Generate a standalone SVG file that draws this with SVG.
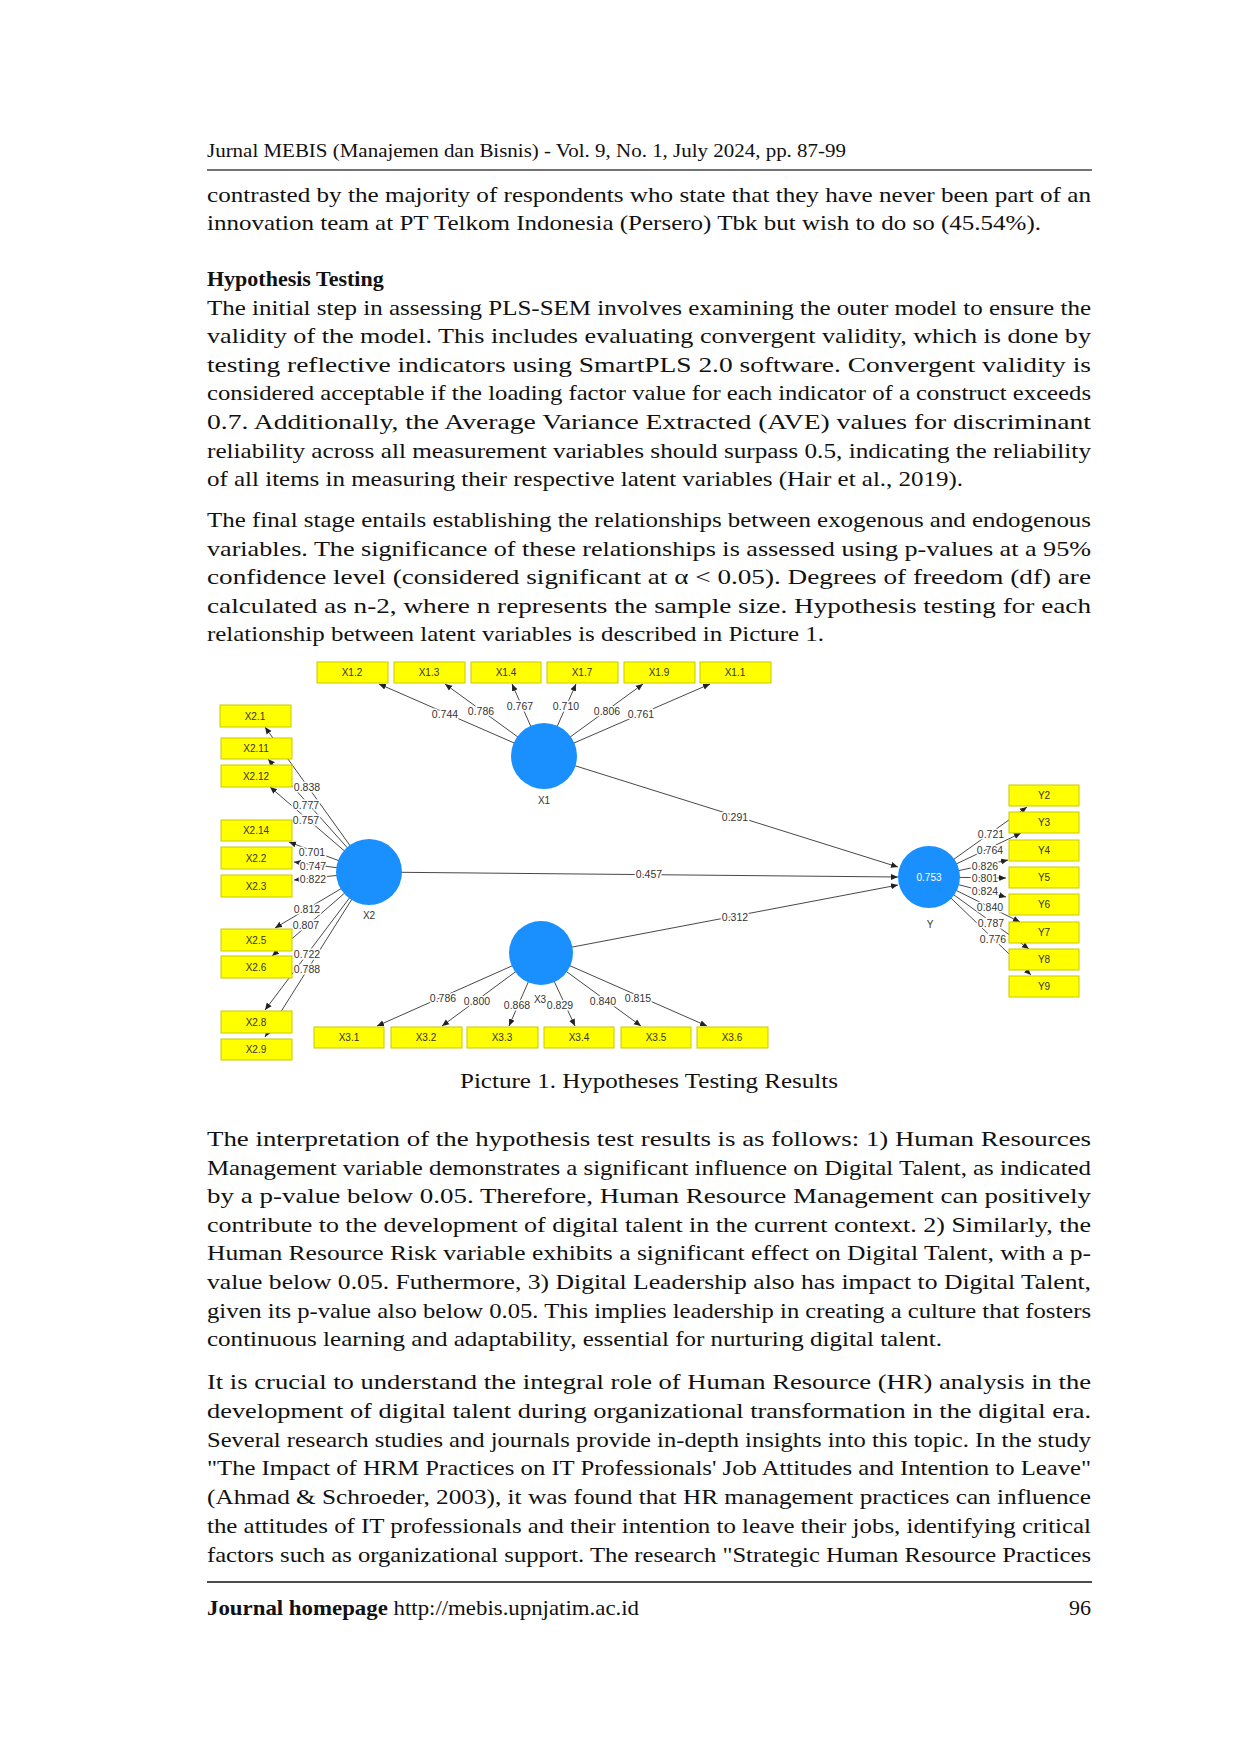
<svg xmlns="http://www.w3.org/2000/svg" width="1240" height="1754" viewBox="0 0 1240 1754">
<style>
.t{font-family:"Liberation Serif",serif;font-size:22px;fill:#111}
.h{font-family:"Liberation Serif",serif;font-size:19px;fill:#111}
.b{font-weight:bold}
.bx{fill:#ffff00;stroke:#c9c900;stroke-width:1}
.bl{font-family:"Liberation Sans",sans-serif;font-size:10px;fill:#333;text-anchor:middle}
.lv{fill:#1a90ff}
.ld{font-family:"Liberation Sans",sans-serif;font-size:10.5px;fill:#333;text-anchor:middle;stroke:#fff;stroke-width:3px;paint-order:stroke}
.c line{stroke:#333;stroke-width:0.9;marker-end:url(#ar)}
</style>
<defs><marker id="ar" markerWidth="8" markerHeight="8" refX="7" refY="4" orient="auto" markerUnits="userSpaceOnUse"><path d="M0,1 L7,4 L0,7 Z" fill="#222"/></marker></defs>
<rect width="1240" height="1754" fill="#fff"/>
<text class="h" x="207" y="157" textLength="639" lengthAdjust="spacingAndGlyphs">Jurnal MEBIS (Manajemen dan Bisnis) - Vol. 9, No. 1, July 2024, pp. 87-99</text>
<line x1="207" y1="170" x2="1092" y2="170" stroke="#444" stroke-width="1.5"/>
<g class="t">
<text x="207" y="202" textLength="884" lengthAdjust="spacingAndGlyphs">contrasted by the majority of respondents who state that they have never been part of an</text>
<text x="207" y="230" textLength="834" lengthAdjust="spacingAndGlyphs">innovation team at PT Telkom Indonesia (Persero) Tbk but wish to do so (45.54%).</text>
<text x="207" y="286" class="b">Hypothesis Testing</text>
<text x="207" y="314.6" textLength="884" lengthAdjust="spacingAndGlyphs">The initial step in assessing PLS-SEM involves examining the outer model to ensure the</text>
<text x="207" y="343.2" textLength="884" lengthAdjust="spacingAndGlyphs">validity of the model. This includes evaluating convergent validity, which is done by</text>
<text x="207" y="371.8" textLength="884" lengthAdjust="spacingAndGlyphs">testing reflective indicators using SmartPLS 2.0 software. Convergent validity is</text>
<text x="207" y="400.4" textLength="884" lengthAdjust="spacingAndGlyphs">considered acceptable if the loading factor value for each indicator of a construct exceeds</text>
<text x="207" y="429" textLength="884" lengthAdjust="spacingAndGlyphs">0.7. Additionally, the Average Variance Extracted (AVE) values for discriminant</text>
<text x="207" y="457.6" textLength="884" lengthAdjust="spacingAndGlyphs">reliability across all measurement variables should surpass 0.5, indicating the reliability</text>
<text x="207" y="486.2" textLength="756" lengthAdjust="spacingAndGlyphs">of all items in measuring their respective latent variables (Hair et al., 2019).</text>
<text x="207" y="527" textLength="884" lengthAdjust="spacingAndGlyphs">The final stage entails establishing the relationships between exogenous and endogenous</text>
<text x="207" y="555.6" textLength="884" lengthAdjust="spacingAndGlyphs">variables. The significance of these relationships is assessed using p-values at a 95%</text>
<text x="207" y="584.2" textLength="884" lengthAdjust="spacingAndGlyphs">confidence level (considered significant at α &lt; 0.05). Degrees of freedom (df) are</text>
<text x="207" y="612.8" textLength="884" lengthAdjust="spacingAndGlyphs">calculated as n-2, where n represents the sample size. Hypothesis testing for each</text>
<text x="207" y="641.4" textLength="617" lengthAdjust="spacingAndGlyphs">relationship between latent variables is described in Picture 1.</text>
<text x="460" y="1088" textLength="378" lengthAdjust="spacingAndGlyphs">Picture 1. Hypotheses Testing Results</text>
<text x="207" y="1146" textLength="884" lengthAdjust="spacingAndGlyphs">The interpretation of the hypothesis test results is as follows: 1) Human Resources</text>
<text x="207" y="1174.6" textLength="884" lengthAdjust="spacingAndGlyphs">Management variable demonstrates a significant influence on Digital Talent, as indicated</text>
<text x="207" y="1203.2" textLength="884" lengthAdjust="spacingAndGlyphs">by a p-value below 0.05. Therefore, Human Resource Management can positively</text>
<text x="207" y="1231.8" textLength="884" lengthAdjust="spacingAndGlyphs">contribute to the development of digital talent in the current context. 2) Similarly, the</text>
<text x="207" y="1260.4" textLength="884" lengthAdjust="spacingAndGlyphs">Human Resource Risk variable exhibits a significant effect on Digital Talent, with a p-</text>
<text x="207" y="1289" textLength="884" lengthAdjust="spacingAndGlyphs">value below 0.05.  Futhermore, 3) Digital Leadership also has impact to Digital Talent,</text>
<text x="207" y="1317.6" textLength="884" lengthAdjust="spacingAndGlyphs">given its p-value also below 0.05. This implies leadership in creating a culture that fosters</text>
<text x="207" y="1346.2" textLength="735" lengthAdjust="spacingAndGlyphs">continuous learning and adaptability, essential for nurturing digital talent.</text>
<text x="207" y="1389" textLength="884" lengthAdjust="spacingAndGlyphs">It is crucial to understand the integral role of Human Resource (HR) analysis in the</text>
<text x="207" y="1417.8" textLength="884" lengthAdjust="spacingAndGlyphs">development of digital talent during organizational transformation in the digital era.</text>
<text x="207" y="1446.6" textLength="884" lengthAdjust="spacingAndGlyphs">Several research studies and journals provide in-depth insights into this topic. In the study</text>
<text x="207" y="1475.4" textLength="884" lengthAdjust="spacingAndGlyphs">"The Impact of HRM Practices on IT Professionals' Job Attitudes and Intention to Leave"</text>
<text x="207" y="1504.2" textLength="884" lengthAdjust="spacingAndGlyphs">(Ahmad &amp; Schroeder, 2003), it was found that HR management practices can influence</text>
<text x="207" y="1533" textLength="884" lengthAdjust="spacingAndGlyphs">the attitudes of IT professionals and their intention to leave their jobs, identifying critical</text>
<text x="207" y="1561.8" textLength="884" lengthAdjust="spacingAndGlyphs">factors such as organizational support. The research "Strategic Human Resource Practices</text>
</g>
<line x1="207" y1="1582" x2="1092" y2="1582" stroke="#111" stroke-width="1.5"/>
<text class="t" x="207" y="1615" textLength="432" lengthAdjust="spacingAndGlyphs"><tspan class="b">Journal homepage</tspan> http://mebis.upnjatim.ac.id</text>
<text class="t" x="1091" y="1615" text-anchor="end">96</text>

<g id="connectors" class="c">
<line x1="544" y1="756" x2="379" y2="684"/>
<line x1="544" y1="756" x2="445" y2="684"/>
<line x1="544" y1="756" x2="512" y2="684"/>
<line x1="544" y1="756" x2="576" y2="684"/>
<line x1="544" y1="756" x2="643" y2="684"/>
<line x1="544" y1="756" x2="710" y2="684"/>
<line x1="369" y1="872" x2="265" y2="727"/>
<line x1="369" y1="872" x2="268" y2="759"/>
<line x1="369" y1="872" x2="270" y2="787"/>
<line x1="369" y1="872" x2="289" y2="842"/>
<line x1="369" y1="872" x2="294" y2="862"/>
<line x1="369" y1="872" x2="294" y2="880"/>
<line x1="369" y1="872" x2="275" y2="928"/>
<line x1="369" y1="872" x2="272" y2="956"/>
<line x1="369" y1="872" x2="265" y2="1010"/>
<line x1="369" y1="872" x2="265" y2="1037"/>
<line x1="541" y1="953" x2="377" y2="1026"/>
<line x1="541" y1="953" x2="442" y2="1026"/>
<line x1="541" y1="953" x2="509" y2="1026"/>
<line x1="541" y1="953" x2="575" y2="1026"/>
<line x1="541" y1="953" x2="641" y2="1026"/>
<line x1="541" y1="953" x2="707" y2="1026"/>
<line x1="929" y1="877" x2="1027" y2="807"/>
<line x1="929" y1="877" x2="1021" y2="833"/>
<line x1="929" y1="877" x2="1008" y2="860"/>
<line x1="929" y1="877" x2="1006" y2="878"/>
<line x1="929" y1="877" x2="1006" y2="897"/>
<line x1="929" y1="877" x2="1020" y2="922"/>
<line x1="929" y1="877" x2="1029" y2="949"/>
<line x1="929" y1="877" x2="1031" y2="975"/>
<line x1="544" y1="756" x2="898" y2="867"/>
<line x1="369" y1="872" x2="898" y2="877"/>
<line x1="541" y1="953" x2="898" y2="885"/>
<g class="ld">
<text x="445" y="718">0.744</text><text x="481" y="715">0.786</text><text x="520" y="710">0.767</text>
<text x="566" y="710">0.710</text><text x="607" y="715">0.806</text><text x="641" y="718">0.761</text>
<text x="307" y="791">0.838</text><text x="306" y="809">0.777</text><text x="306" y="824">0.757</text>
<text x="312" y="856">0.701</text><text x="313" y="870">0.747</text><text x="313" y="883">0.822</text>
<text x="307" y="913">0.812</text><text x="306" y="929">0.807</text><text x="307" y="958">0.722</text>
<text x="307" y="973">0.788</text>
<text x="443" y="1002">0.786</text><text x="477" y="1005">0.800</text><text x="517" y="1009">0.868</text>
<text x="560" y="1009">0.829</text><text x="603" y="1005">0.840</text><text x="638" y="1002">0.815</text>
<text x="991" y="838">0.721</text><text x="990" y="854">0.764</text><text x="985" y="870">0.826</text>
<text x="985" y="882">0.801</text><text x="985" y="895">0.824</text><text x="990" y="911">0.840</text>
<text x="991" y="927">0.787</text><text x="993" y="943">0.776</text>
<text x="735" y="821">0.291</text><text x="649" y="878">0.457</text><text x="735" y="921">0.312</text>
</g>
</g>

<g id="X1"><circle class="lv" cx="544" cy="756" r="33"/><text class="bl" x="544" y="804">X1</text></g>
<g id="X2"><circle class="lv" cx="369" cy="872" r="33"/><text class="bl" x="369" y="919">X2</text></g>
<g id="X3"><circle class="lv" cx="541" cy="953" r="32"/><text class="bl" x="540" y="1003">X3</text></g>
<g id="Y"><circle class="lv" cx="929" cy="877" r="31"/><text class="bl" x="929" y="881" style="fill:#fff">0.753</text><text class="bl" x="930" y="928">Y</text></g>

<g id="X1.2"><rect class="bx" x="317" y="662" width="71" height="21"/><text class="bl" x="352" y="676">X1.2</text></g>
<g id="X1.3"><rect class="bx" x="394" y="662" width="71" height="21"/><text class="bl" x="429" y="676">X1.3</text></g>
<g id="X1.4"><rect class="bx" x="471" y="662" width="70" height="21"/><text class="bl" x="506" y="676">X1.4</text></g>
<g id="X1.7"><rect class="bx" x="547" y="662" width="71" height="21"/><text class="bl" x="582" y="676">X1.7</text></g>
<g id="X1.9"><rect class="bx" x="624" y="662" width="71" height="21"/><text class="bl" x="659" y="676">X1.9</text></g>
<g id="X1.1"><rect class="bx" x="700" y="662" width="71" height="21"/><text class="bl" x="735" y="676">X1.1</text></g>

<g id="X2.1"><rect class="bx" x="220" y="705" width="71" height="22"/><text class="bl" x="255" y="720">X2.1</text></g>
<g id="X2.11"><rect class="bx" x="221" y="738" width="71" height="21"/><text class="bl" x="256" y="752">X2.11</text></g>
<g id="X2.12"><rect class="bx" x="221" y="765" width="71" height="22"/><text class="bl" x="256" y="780">X2.12</text></g>
<g id="X2.14"><rect class="bx" x="221" y="820" width="71" height="21"/><text class="bl" x="256" y="834">X2.14</text></g>
<g id="X2.2"><rect class="bx" x="221" y="847" width="71" height="22"/><text class="bl" x="256" y="862">X2.2</text></g>
<g id="X2.3"><rect class="bx" x="221" y="875" width="71" height="22"/><text class="bl" x="256" y="890">X2.3</text></g>
<g id="X2.5"><rect class="bx" x="221" y="929" width="71" height="22"/><text class="bl" x="256" y="944">X2.5</text></g>
<g id="X2.6"><rect class="bx" x="221" y="956" width="71" height="22"/><text class="bl" x="256" y="971">X2.6</text></g>
<g id="X2.8"><rect class="bx" x="221" y="1011" width="71" height="22"/><text class="bl" x="256" y="1026">X2.8</text></g>
<g id="X2.9"><rect class="bx" x="221" y="1039" width="71" height="21"/><text class="bl" x="256" y="1053">X2.9</text></g>

<g id="X3.1"><rect class="bx" x="314" y="1027" width="70" height="21"/><text class="bl" x="349" y="1041">X3.1</text></g>
<g id="X3.2"><rect class="bx" x="391" y="1027" width="71" height="21"/><text class="bl" x="426" y="1041">X3.2</text></g>
<g id="X3.3"><rect class="bx" x="467" y="1027" width="71" height="21"/><text class="bl" x="502" y="1041">X3.3</text></g>
<g id="X3.4"><rect class="bx" x="544" y="1027" width="70" height="21"/><text class="bl" x="579" y="1041">X3.4</text></g>
<g id="X3.5"><rect class="bx" x="621" y="1027" width="70" height="21"/><text class="bl" x="656" y="1041">X3.5</text></g>
<g id="X3.6"><rect class="bx" x="697" y="1027" width="71" height="21"/><text class="bl" x="732" y="1041">X3.6</text></g>

<g id="Y2"><rect class="bx" x="1009" y="785" width="70" height="21"/><text class="bl" x="1044" y="799">Y2</text></g>
<g id="Y3"><rect class="bx" x="1009" y="812" width="70" height="21"/><text class="bl" x="1044" y="826">Y3</text></g>
<g id="Y4"><rect class="bx" x="1009" y="840" width="70" height="21"/><text class="bl" x="1044" y="854">Y4</text></g>
<g id="Y5"><rect class="bx" x="1009" y="867" width="70" height="21"/><text class="bl" x="1044" y="881">Y5</text></g>
<g id="Y6"><rect class="bx" x="1009" y="894" width="70" height="21"/><text class="bl" x="1044" y="908">Y6</text></g>
<g id="Y7"><rect class="bx" x="1009" y="922" width="70" height="21"/><text class="bl" x="1044" y="936">Y7</text></g>
<g id="Y8"><rect class="bx" x="1009" y="949" width="70" height="21"/><text class="bl" x="1044" y="963">Y8</text></g>
<g id="Y9"><rect class="bx" x="1009" y="976" width="70" height="21"/><text class="bl" x="1044" y="990">Y9</text></g>
</svg>
